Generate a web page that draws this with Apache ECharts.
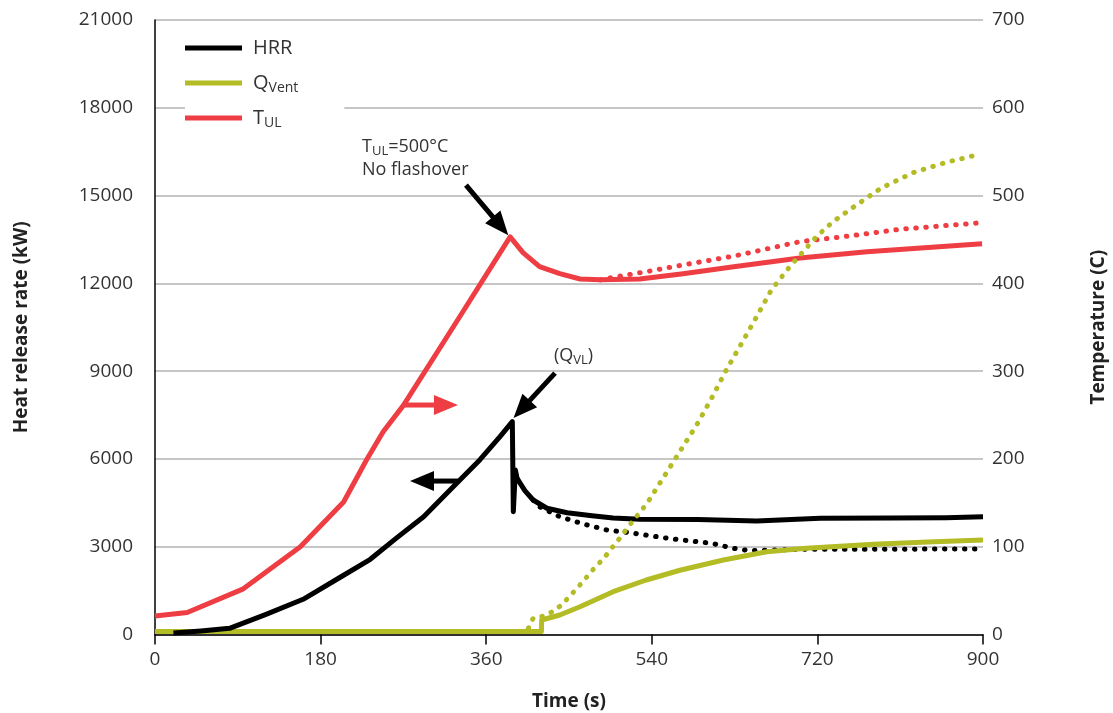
<!DOCTYPE html>
<html>
<head>
<meta charset="utf-8">
<script src="https://cdn.jsdelivr.net/npm/echarts@6/dist/echarts.min.js"></script>
<style>
html,body{margin:0;padding:0;background:#fff;}
#main{width:1113px;height:713px;}
</style>
</head>
<body>
<div id="main"></div>
<script>
// ---- data ----
const xTicks = [0, 180, 360, 540, 720, 900];
const leftTicks = [0, 3000, 6000, 9000, 12000, 15000, 18000, 21000];
const rightTicks = [0, 100, 200, 300, 400, 500, 600, 700];

// HRR (kW), solid
const hrrTime = [20, 50, 81, 120, 161, 200, 234, 262, 292, 322, 353, 375, 388.4, 389.5, 391.7, 393.5, 394.6, 402, 411, 426, 448, 475, 498, 527, 590, 654, 723, 800, 860, 900];
const hrrVal  = [50, 120, 212, 680, 1203, 1930, 2570, 3285, 4026, 4980, 5964, 6761, 7274, 4197, 5620, 5350, 5281, 4920, 4597, 4314, 4163, 4060, 3982, 3940, 3930, 3879, 3971, 3982, 3992, 4026];
// HRR (kW), dotted
const hrrDotTime = [411, 418, 440, 465.6, 491, 516, 540, 563, 605, 628.6, 646.7, 672, 708, 781, 840, 900];
const hrrDotVal  = [4597, 4368, 4026, 3777, 3572, 3480, 3367, 3264, 3117, 2946, 2864, 2888, 2912, 2912, 2918, 2922];

// QVent (kW), solid
const qvTime = [0, 420, 420.3, 440, 462, 498, 534, 570.6, 617.8, 665, 708, 781, 840, 900];
const qvVal  = [100, 100, 496, 667, 950, 1463, 1863, 2195, 2546, 2830, 2946, 3083, 3160, 3230];
// QVent (kW), dotted
const qvDotTime = [405.8, 411, 422, 432, 442, 449.6, 457, 464.5, 472, 480, 488, 494.6, 501.8, 514.5, 529, 534.4, 588.8, 605, 621, 637.7, 654, 670, 690, 719, 737, 761, 789, 824, 860.5, 896.7];
const qvDotVal  = [212, 554, 632, 779, 1008, 1271, 1521, 1784, 2068, 2352, 2604, 2888, 3151, 3685, 4255, 4460, 7161, 8073, 9041, 9953, 10862, 11775, 12571, 13597, 14110, 14646, 15251, 15784, 16140, 16413];

// TUL (°C), solid
const tulTime = [0, 35, 96, 158, 205, 230, 248, 270, 330, 386, 400, 418, 440, 462, 484, 527, 574, 629, 701, 774, 899];
const tulVal  = [21, 25, 52, 100, 151, 199, 231, 261, 360, 453, 435, 419, 411, 405, 404, 405, 411, 419, 429, 436, 445];
// TUL (°C), dotted
const tulDotTime = [484, 502, 538, 574, 629, 701, 755, 810, 897];
const tulDotVal  = [404, 407.6, 414, 421, 431, 447.5, 454, 461.6, 469];

const BLACK = '#000000', GREEN = '#b3bc24', RED = '#ee3e44', TXT = '#333333';
const FONT = "'Open Sans', 'Liberation Sans', sans-serif";

function pairs(t, v) { return t.map((x, i) => [x, v[i]]); }

const chart = echarts.init(document.getElementById('main'), null, {renderer: 'canvas'});

function lineSeries(name, t, v, color, dotted, yIdx, z) {
  return {
    name: name, type: 'line', yAxisIndex: yIdx, data: pairs(t, v),
    showSymbol: false, symbol: 'none', smooth: false, z: z,
    itemStyle: {color: color},
    lineStyle: dotted ? {color: color, width: 5, type: [0.5, 9.5], cap: 'round'}
                      : {color: color, width: 5, type: 'solid', cap: 'butt', join: 'round'},
    emphasis: {disabled: true}, silent: true
  };
}

const option = {
  animation: false,
  backgroundColor: '#ffffff',
  grid: {left: 155, right: 130, top: 20, bottom: 78.5, containLabel: false, outerBoundsMode: 'none'},
  legend: {
    data: ['HRR', 'QVent', 'TUL'],
    orient: 'vertical', left: 185, top: 31,
    backgroundColor: '#ffffff',
    padding: [5, 46, 8, 0],
    itemGap: 11, itemWidth: 57, itemHeight: 5, icon: 'rect',
    selectedMode: false,
    formatter: function (n) {
      if (n === 'QVent') return '{a|Q}{s|Vent}';
      if (n === 'TUL') return '{a|T}{s|UL}';
      return '{a|' + n + '}';
    },
    textStyle: {
      color: TXT, fontFamily: FONT, fontSize: 20, lineHeight: 24, padding: [0, 0, 0, 6],
      rich: {
        a: {fontFamily: FONT, fontSize: 20, lineHeight: 24, color: TXT},
        s: {fontFamily: FONT, fontSize: 14, lineHeight: 14, color: TXT, verticalAlign: 'bottom'}
      }
    }
  },
  xAxis: {
    type: 'value', min: 0, max: 900, interval: 180,
    name: 'Time (s)', nameLocation: 'middle', nameGap: 58,
    nameTextStyle: {fontFamily: FONT, fontSize: 19, fontWeight: 'bold', color: '#222'},
    axisLine: {show: true, lineStyle: {color: '#000', width: 1.5}},
    axisTick: {show: true, length: 10, lineStyle: {color: '#000', width: 1.5}},
    splitLine: {show: false},
    axisLabel: {margin: 16, fontFamily: FONT, fontSize: 19, color: TXT,
      formatter: v => xTicks.indexOf(v) >= 0 ? String(v) : ''}
  },
  yAxis: [{
    type: 'value', min: 0, max: 21000, interval: 3000, position: 'left',
    name: 'Heat release rate (kW)', nameLocation: 'middle', nameGap: 124, nameRotate: 90,
    nameTextStyle: {fontFamily: FONT, fontSize: 19, fontWeight: 'bold', color: '#222'},
    axisLine: {show: true, onZero: false, lineStyle: {color: '#000', width: 1.5}},
    axisTick: {show: false},
    splitLine: {show: true, lineStyle: {color: '#b3b3b3', width: 1.5}},
    axisLabel: {margin: 22, fontFamily: FONT, fontSize: 19, color: TXT,
      formatter: v => leftTicks.indexOf(v) >= 0 ? String(v) : ''}
  }, {
    type: 'value', min: 0, max: 700, interval: 100, position: 'right',
    name: 'Temperature (C)', nameLocation: 'middle', nameGap: 106, nameRotate: 90,
    nameTextStyle: {fontFamily: FONT, fontSize: 19, fontWeight: 'bold', color: '#222'},
    axisLine: {show: false}, axisTick: {show: false}, splitLine: {show: false},
    axisLabel: {margin: 9, fontFamily: FONT, fontSize: 19, color: TXT,
      formatter: v => rightTicks.indexOf(v) >= 0 ? String(v) : ''}
  }],
  series: [
    lineSeries('HRR dotted', hrrDotTime, hrrDotVal, BLACK, true, 0, 3),
    lineSeries('QVent', qvTime, qvVal, GREEN, false, 0, 3),
    lineSeries('HRR', hrrTime, hrrVal, BLACK, false, 0, 4),
    lineSeries('TUL', tulTime, tulVal, RED, false, 1, 4),
    lineSeries('TUL dotted', tulDotTime, tulDotVal, RED, true, 1, 4),
    lineSeries('QVent dotted', qvDotTime, qvDotVal, GREEN, true, 0, 5)
  ]
};
chart.setOption(option);

// ---- annotations (positions given in data coordinates) ----
const annoTexts = [
  {axis: 0, at: [225, 16653], text: '{a|T}{s|UL}{a|=500°C}'},
  {axis: 0, at: [225, 15867], text: '{a|No flashover}'},
  {axis: 0, at: [433.7, 9514], text: '{a|(Q}{s|VL}{a|)}'}
];
const annoArrows = [
  {axis: 0, from: [338, 15355], to: [384, 13647], color: BLACK},
  {axis: 0, from: [434.8, 8933], to: [389.7, 7396], color: BLACK},
  {axis: 1, from: [271.7, 261.4], to: [329.3, 261.4], color: RED},
  {axis: 0, from: [329.3, 5244], to: [277.2, 5244], color: BLACK}
];

function px(axis, p) { return chart.convertToPixel({xAxisIndex: 0, yAxisIndex: axis}, p); }

const graphics = [];
annoTexts.forEach(a => {
  const p = px(a.axis, a.at);
  graphics.push({
    type: 'text', x: p[0], y: p[1], z: 20, silent: true,
    style: {
      text: a.text, fill: TXT, align: 'left', verticalAlign: 'middle',
      fontFamily: FONT, fontSize: 18,
      rich: {
        a: {fontFamily: FONT, fontSize: 18, lineHeight: 22, fill: TXT},
        s: {fontFamily: FONT, fontSize: 13, lineHeight: 12, fill: TXT, verticalAlign: 'bottom'}
      }
    }
  });
});
annoArrows.forEach(a => {
  const p0 = px(a.axis, a.from), p1 = px(a.axis, a.to);
  const dx = p1[0] - p0[0], dy = p1[1] - p0[1], L = Math.hypot(dx, dy);
  const ux = dx / L, uy = dy / L, nx = -uy, ny = ux;
  const headL = 24, headW = 20;
  const bx = p1[0] - ux * headL, by = p1[1] - uy * headL;
  graphics.push({
    type: 'line', z: 20, silent: true,
    shape: {x1: p0[0], y1: p0[1], x2: bx + ux * 2, y2: by + uy * 2},
    style: {stroke: a.color, lineWidth: 5}
  });
  graphics.push({
    type: 'polygon', z: 20, silent: true,
    shape: {points: [[p1[0], p1[1]], [bx + nx * headW / 2, by + ny * headW / 2], [bx - nx * headW / 2, by - ny * headW / 2]]},
    style: {fill: a.color}
  });
});
chart.setOption({graphic: graphics});
</script>
</body>
</html>
